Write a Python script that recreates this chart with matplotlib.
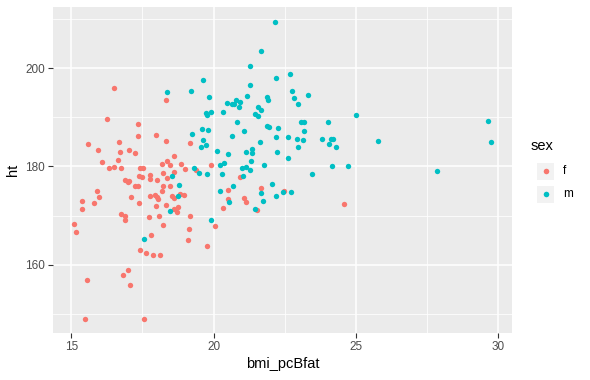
import matplotlib
matplotlib.use("Agg")
import matplotlib.pyplot as plt
from matplotlib.patches import Rectangle
from matplotlib.ticker import MultipleLocator

plt.rcParams['font.family'] = ['Liberation Sans', 'DejaVu Sans']

# bmi_pcBfat vs ht, females
f_bmi = [16.51, 18.34, 16.26, 17.35, 17.35, 17.99, 18.34, 15.60, 16.69, 15.95,
         16.72, 17.04, 17.25, 16.09, 16.65, 18.37, 18.20, 18.48, 16.33, 16.51,
         16.76, 17.42, 17.53, 17.39, 17.49, 17.77, 18.23, 18.37, 16.90, 17.00,
         17.04, 17.77, 18.02, 17.25, 17.35, 18.23, 18.48, 18.20, 15.91, 15.98,
         15.39, 15.81, 17.11, 17.39, 17.77, 17.95, 18.02, 18.06, 17.99, 18.34,
         15.39, 16.76, 16.90, 16.90, 17.74, 18.09, 15.11, 18.23, 15.18, 17.81,
         17.42, 17.63, 17.88, 18.13, 17.00, 16.83, 15.56, 17.07, 15.49, 17.56,
         19.14, 20.06, 19.11, 19.78, 19.18, 18.62, 18.86, 19.92, 19.00, 19.39,
         18.62, 20.94, 21.67, 20.51, 22.48, 18.55, 18.62, 18.83, 18.97, 20.51,
         21.08, 21.15, 20.34, 18.76, 18.62, 18.72, 21.53, 19.18, 24.59]
f_ht = [195.9, 193.5, 189.6, 188.6, 186.2, 186.4, 185.1, 184.5, 184.9, 183.3,
        182.9, 183.3, 182.7, 180.9, 181.3, 181.1, 180.5, 180.3, 179.7, 179.9,
        179.7, 179.7, 179.7, 178.0, 177.8, 178.2, 178.6, 177.6, 177.2, 176.8,
        177.0, 177.4, 177.2, 176.0, 176.0, 176.0, 176.0, 175.0, 175.0, 173.8,
        172.9, 172.5, 173.8, 172.5, 174.0, 174.2, 173.8, 173.3, 171.9, 172.1,
        171.3, 170.3, 169.9, 169.1, 169.7, 169.9, 168.3, 168.1, 166.6, 166.0,
        163.0, 162.4, 162.0, 162.0, 158.9, 157.9, 156.9, 155.8, 148.9, 148.9,
        167.2, 167.9, 165.0, 163.8, 184.7, 182.1, 180.5, 180.3, 179.5, 179.2,
        178.8, 177.8, 175.6, 175.2, 175.0, 174.0, 173.5, 174.4, 174.2, 173.3,
        173.5, 172.7, 171.5, 171.7, 171.3, 170.7, 171.1, 169.9, 172.3]

# males
m_bmi = [18.37, 22.17, 21.67, 21.29, 19.64, 22.20, 22.69, 19.21, 21.29, 19.85,
         21.18, 21.88, 21.92, 20.48, 20.63, 20.73, 20.80, 20.94, 20.90, 21.57,
         21.67, 20.34, 19.74, 19.78, 19.92, 21.46, 21.57, 22.76, 22.83, 23.32,
         22.97, 25.01, 20.83, 21.88, 21.95, 22.27, 21.08, 19.60, 19.81, 19.25,
         20.66, 22.20, 22.61, 19.64, 21.64, 19.74, 19.57, 20.13, 20.51, 21.15,
         21.36, 21.36, 22.24, 22.61, 21.32, 20.37, 20.23, 21.78, 19.32, 19.50,
         19.78, 20.30, 21.01, 21.15, 21.29, 18.55, 21.04, 18.79, 20.69, 22.06,
         20.23, 22.45, 21.67, 22.20, 18.76, 20.55, 21.74, 18.47, 21.46, 19.92,
         23.08, 23.18, 24.03, 23.18, 22.94, 23.15, 23.82, 24.13, 24.20, 24.06,
         24.31, 22.97, 25.78, 24.17, 24.73, 23.46, 22.73, 29.65, 29.75, 27.86,
         17.56]
m_ht = [195.1, 209.4, 203.5, 200.4, 197.6, 198.0, 198.8, 195.3, 196.5, 194.1,
        194.3, 194.1, 193.5, 192.9, 192.7, 192.7, 193.5, 193.1, 192.1, 192.1,
        191.5, 191.1, 190.8, 190.4, 191.1, 190.6, 190.2, 195.3, 193.9, 194.5,
        192.7, 190.4, 189.0, 188.2, 188.0, 187.8, 187.2, 187.6, 187.4, 186.6,
        186.2, 186.0, 186.0, 185.4, 184.9, 184.3, 183.9, 183.1, 182.5, 182.9,
        183.5, 182.7, 182.9, 181.7, 181.1, 180.7, 180.3, 180.3, 179.7, 178.6,
        178.4, 178.4, 179.7, 179.9, 179.2, 178.0, 178.0, 176.2, 176.0, 176.4,
        175.0, 174.8, 174.6, 174.0, 174.0, 172.7, 172.9, 170.9, 171.3, 169.1,
        189.0, 189.0, 189.0, 187.2, 185.6, 185.4, 185.6, 185.6, 185.6, 184.5,
        183.9, 183.9, 185.1, 180.1, 180.1, 178.4, 174.8, 189.2, 184.9, 179.0,
        165.2]

sex_levels = ['f', 'm']
colors = {'f': '#F8766D', 'm': '#00BFC4'}

fig = plt.figure(figsize=(5.9, 3.8), dpi=100)
ax = fig.add_axes([0.0893, 0.1237, 0.7785, 0.8571])
ax.set_facecolor('#EBEBEB')

ax.scatter(f_bmi, f_ht, s=15, color=colors['f'], linewidths=0, zorder=3)
ax.scatter(m_bmi, m_ht, s=15, color=colors['m'], linewidths=0, zorder=3)

ax.set_xlim(14.35, 30.48)
ax.set_ylim(146.1, 212.4)
ax.xaxis.set_major_locator(MultipleLocator(5))
ax.xaxis.set_minor_locator(MultipleLocator(2.5))
ax.yaxis.set_major_locator(MultipleLocator(20))
ax.yaxis.set_minor_locator(MultipleLocator(10))
ax.grid(which='major', color='white', linewidth=1.1, zorder=0)
ax.grid(which='minor', color='white', linewidth=0.55, zorder=0)
ax.set_axisbelow(True)
for sp in ax.spines.values():
    sp.set_visible(False)
ax.tick_params(which='major', length=3.5, width=0.8, color='#333333',
               labelsize=8.5, labelcolor='#4D4D4D', pad=2)
ax.tick_params(which='minor', length=0)

ax.set_xlabel('bmi_pcBfat', fontsize=10.5, labelpad=3)
ax.set_ylabel('ht', fontsize=10.5, labelpad=4)

# legend drawn by hand, ggplot style
fig.text(531 / 590, 1 - 146 / 380, 'sex', fontsize=10.5, va='center', ha='left')
for i, lev in enumerate(sex_levels):
    yc = 1 - (171 + 23 * i) / 380
    fig.patches.append(Rectangle((537 / 590, yc - 8.5 / 380), 17 / 590, 17 / 380,
                                 transform=fig.transFigure, facecolor='#F2F2F2',
                                 edgecolor='none'))
    fig.lines.append(plt.Line2D([545.5 / 590], [yc], transform=fig.transFigure,
                                marker='o', markersize=4, color=colors[lev],
                                markeredgewidth=0, linestyle='none'))
    fig.text(563 / 590, yc, lev, fontsize=8.5, va='center', ha='left')

fig.savefig('out.png', dpi=100)
